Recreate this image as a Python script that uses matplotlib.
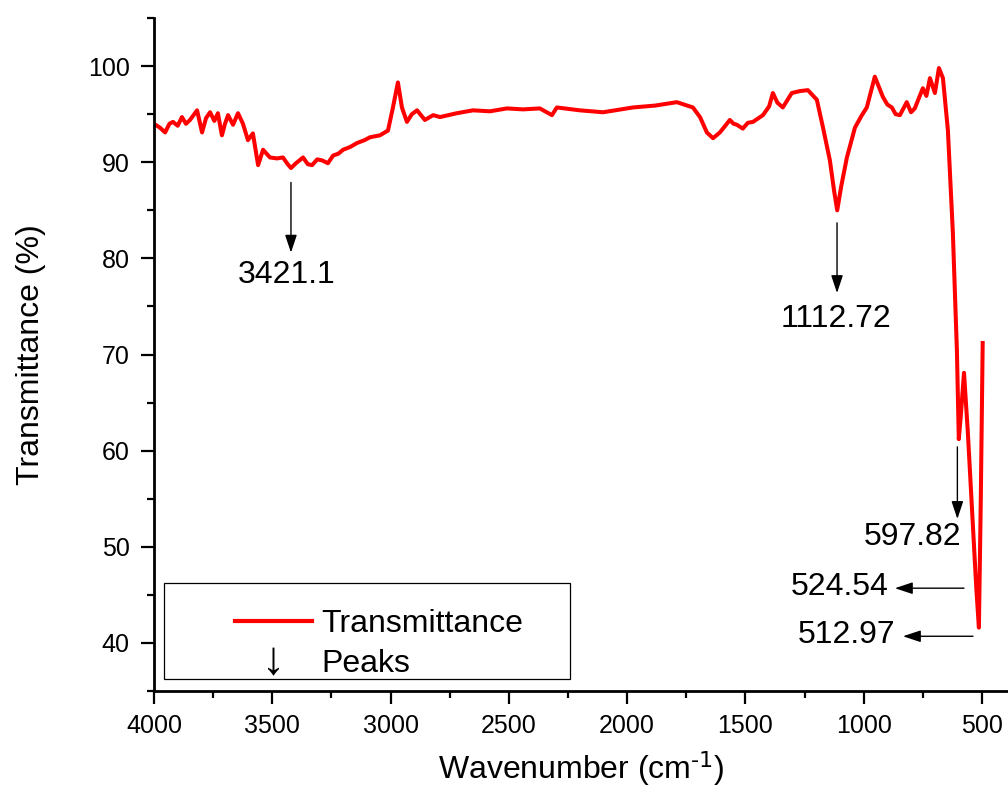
import matplotlib
matplotlib.use("Agg")
import matplotlib.pyplot as plt
from matplotlib.lines import Line2D
from matplotlib.patches import Rectangle
from matplotlib.ticker import MultipleLocator

plt.rcParams['font.family'] = ['Liberation Sans', 'DejaVu Sans']
plt.rcParams['mathtext.default'] = 'regular'

# FTIR spectrum
wavenumber = [4000, 3975, 3953, 3935, 3920, 3900, 3882, 3865, 3848, 3830, 3818, 3797,
              3780, 3763, 3745, 3730, 3713, 3700, 3687, 3666, 3645, 3624, 3603, 3582,
              3560, 3539, 3510, 3480, 3455, 3435, 3421, 3400, 3370, 3350, 3332, 3310,
              3290, 3265, 3243, 3220, 3201, 3170, 3142, 3110, 3087, 3045, 3011, 2990,
              2969, 2952, 2931, 2910, 2888, 2855, 2820, 2791, 2720, 2652, 2580, 2508,
              2440, 2369, 2318, 2297, 2200, 2102, 1975, 1880, 1790, 1722, 1692, 1663,
              1637, 1608, 1585, 1566, 1550, 1536, 1511, 1490, 1468, 1426, 1400, 1384,
              1365, 1342, 1304, 1270, 1236, 1198, 1172, 1143, 1125, 1112, 1095, 1071,
              1037, 1010, 987, 953, 919, 900, 881, 865, 847, 818, 800, 784, 750, 735,
              720, 699, 682, 665, 644, 623, 606, 598, 590, 576, 560, 524, 513, 505, 497]
transmittance = [94.0, 93.6, 93.1, 94.0, 94.2, 93.8, 94.7, 94.0, 94.4, 95.0, 95.4, 93.1,
                 94.6, 95.2, 94.3, 95.1, 92.8, 94.0, 94.9, 93.9, 95.1, 94.0, 92.3, 93.0,
                 89.7, 91.3, 90.5, 90.4, 90.5, 89.8, 89.4, 89.9, 90.5, 89.8, 89.7, 90.3,
                 90.2, 89.9, 90.7, 90.9, 91.3, 91.6, 92.0, 92.3, 92.6, 92.8, 93.3, 95.7,
                 98.3, 95.7, 94.2, 95.0, 95.4, 94.4, 94.9, 94.7, 95.1, 95.4, 95.3, 95.6,
                 95.5, 95.6, 94.9, 95.7, 95.4, 95.2, 95.7, 95.9, 96.25, 95.7, 94.7, 93.1,
                 92.5, 93.1, 93.8, 94.4, 94.0, 93.9, 93.5, 94.1, 94.2, 94.9, 95.8, 97.2,
                 96.2, 95.7, 97.2, 97.4, 97.5, 96.5, 93.6, 90.2, 87.0, 85.0, 87.5, 90.5,
                 93.6, 94.8, 95.7, 98.9, 96.8, 96.0, 95.7, 95.0, 94.9, 96.25, 95.2, 95.6,
                 97.7, 96.9, 98.75, 97.2, 99.8, 98.75, 93.3, 82.6, 70.4, 61.2, 63.5, 68.1,
                 62.0, 45.7, 41.6, 55.0, 71.2]

# peak labels: text, arrow start, arrow end, label position
peak_labels = ['3421.1', '1112.72', '597.82', '524.54', '512.97']
arrow_from = [(3421.1, 87.9), (1112.72, 83.7), (604, 60.4), (576, 45.7), (538, 40.7)]
arrow_to = [(3421.1, 80.6), (1112.72, 76.4), (604, 52.9), (868, 45.7), (834, 40.7)]
label_pos = [(3440, 78.3), (1115, 73.7), (588, 51.0), (894, 45.8), (868, 40.8)]
label_align = ['center', 'center', 'right', 'right', 'right']

fig = plt.figure(figsize=(10.08, 7.98), dpi=100)
ax = fig.add_axes([0.1528, 0.134, 0.8472, 0.8434])

ax.plot(wavenumber, transmittance, color='#ff0000', lw=2.9, solid_joinstyle='round')

for lab, a0, a1, pos, ha in zip(peak_labels, arrow_from, arrow_to, label_pos, label_align):
    ax.annotate('', xy=a1, xytext=a0,
                arrowprops=dict(arrowstyle='-|>,head_length=0.6,head_width=0.2',
                                color='black', lw=1, mutation_scale=18,
                                shrinkA=0, shrinkB=0))
    ax.text(pos[0], pos[1], lab, fontsize=23, ha=ha, va='center')

ax.set_xlim(4000, 390)
ax.set_ylim(35, 105)
ax.xaxis.set_major_locator(MultipleLocator(500))
ax.xaxis.set_minor_locator(MultipleLocator(250))
ax.set_yticks([40, 50, 60, 70, 80, 90, 100])
ax.yaxis.set_minor_locator(MultipleLocator(5))

for side in ['top', 'right']:
    ax.spines[side].set_visible(False)
for side in ['left', 'bottom']:
    ax.spines[side].set_linewidth(2)

ax.tick_params(which='major', direction='out', length=9.5, width=1.6, labelsize=18, pad=7)
ax.tick_params(which='minor', direction='out', length=5, width=1.6)
ax.tick_params(axis='y', which='major', pad=8)

ax.set_xlabel(r'Wavenumber (cm$^{\text{-1}}$)', fontsize=23, labelpad=8)
ax.set_ylabel('Transmittance (%)', fontsize=23, labelpad=30)

handles = [Line2D([], [], color='#ff0000', lw=3),
           Line2D([], [], linestyle='none', marker=r'$\downarrow$', color='black', markersize=20,
                  markeredgewidth=0)]
ax.legend(handles, ['Transmittance', 'Peaks'], loc='upper left', bbox_to_anchor=(0.095, 0.122),
          frameon=False, fontsize=23, handlelength=2.4, handletextpad=0.3,
          labelspacing=0.32, borderpad=0, borderaxespad=0)
ax.add_patch(Rectangle((0.0117, 0.0178), 0.475, 0.1427, transform=ax.transAxes,
                       fill=False, ec='black', lw=0.9))

fig.savefig('out.png', dpi=100)
